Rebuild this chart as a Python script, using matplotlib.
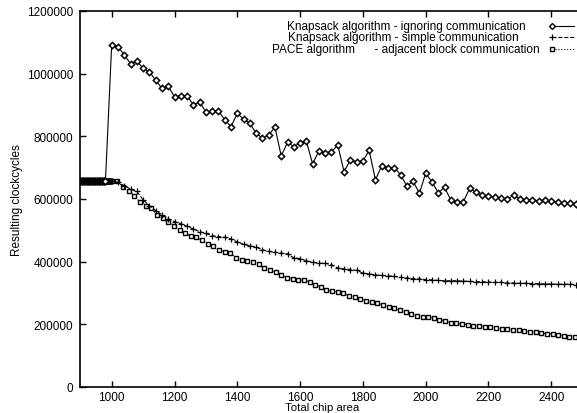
import numpy as np
import matplotlib
matplotlib.use("Agg")
import matplotlib.pyplot as plt

plt.rcParams['font.family'] = ['Liberation Sans', 'DejaVu Sans']

# flat start, same for all three algorithms
flat_area = np.arange(900, 1000, 2)
flat_cycles = 657000

# Knapsack - ignoring communication (every 20 units from 1000)
ignoring = [1093000, 1086000, 1060000, 1032000, 1040000, 1017000, 1006000, 979000,
            953000, 960000, 926000, 930000, 930000, 900000, 910000, 877000,
            881000, 881000, 853000, 831000, 873000, 855000, 841000, 810000,
            794000, 805000, 829000, 737000, 781000, 767000, 779000, 784000,
            712000, 754000, 746000, 751000, 772000, 687000, 724000, 719000,
            721000, 755000, 661000, 706000, 700000, 700000, 678000, 641000,
            657000, 618000, 682000, 655000, 620000, 637000, 597000, 591000,
            591000, 634000, 621000, 612000, 610000, 605000, 602000, 600000,
            612000, 599000, 597000, 598000, 594000, 598000, 593000, 590000,
            587000, 586000, 584000]

# Knapsack - simple communication (every 20 units from 1000)
simple = [657000, 653000, 642000, 632000, 624000, 598000, 578000, 563000,
          550000, 537000, 528000, 521000, 513000, 504000, 496000, 490000,
          483000, 480000, 478000, 472000, 463000, 455000, 451000, 446000,
          438000, 433000, 430000, 427000, 425000, 412000, 410000, 403000,
          398000, 395000, 395000, 390000, 380000, 377000, 375000, 372000,
          364000, 361000, 358000, 356000, 355000, 353000, 350000, 348000,
          346000, 345000, 343000, 342000, 340000, 339000, 339000, 339000,
          338000, 337000, 336000, 336000, 335000, 334000, 334000, 332000,
          332000, 331000, 331000, 330000, 330000, 329000, 329000, 328000,
          328000, 328000, 327000]

# PACE - adjacent block communication (every 18 units from 1000)
pace = [658000, 657000, 638000, 626000, 611000, 590000, 579000, 570000,
        550000, 538000, 526000, 514000, 501000, 490000, 483000, 478000,
        468000, 456000, 450000, 437000, 432000, 428000, 412000, 405000,
        401000, 398000, 392000, 381000, 374000, 367000, 357000, 349000,
        345000, 342000, 340000, 336000, 327000, 318000, 310000, 306000,
        304000, 299000, 291000, 286000, 281000, 275000, 270000, 268000,
        261000, 255000, 251000, 245000, 240000, 233000, 226000, 225000,
        222000, 221000, 215000, 212000, 204000, 203000, 201000, 199000,
        196000, 195000, 192000, 191000, 188000, 186000, 185000, 183000,
        182000, 179000, 177000, 174000, 172000, 170000, 169000, 166000,
        164000, 160000, 158000]

labels = ["Knapsack algorithm - ignoring communication",
          "Knapsack algorithm - simple communication",
          "PACE algorithm      - adjacent block communication"]

flat_ign = flat_area[flat_area <= 980]
x_ign = np.concatenate([flat_ign, 1000 + 20 * np.arange(len(ignoring))])
y_ign = np.concatenate([np.full(len(flat_ign), flat_cycles), ignoring])
x_sim = np.concatenate([flat_area, 1000 + 20 * np.arange(len(simple))])
y_sim = np.concatenate([np.full(len(flat_area), flat_cycles), simple])
x_pac = np.concatenate([flat_area, 1000 + 18 * np.arange(len(pace))])
y_pac = np.concatenate([np.full(len(flat_area), flat_cycles), pace])

fig = plt.figure(figsize=(5.77, 4.14), dpi=100)
ax = fig.add_axes([80/577, 26/414, 497/577, 376/414])

ax.plot(x_pac, y_pac, ls=':', lw=0.8, color='black', marker='s', ms=3.5,
        mfc='white', mec='black', mew=1.0)
ax.plot(x_sim, y_sim, ls='--', lw=0.8, color='black', marker='+', ms=5,
        mew=0.9)
ax.plot(x_ign, y_ign, ls='-', lw=0.8, color='black', marker='D', ms=3.2,
        mfc='white', mec='black', mew=1.1)

ax.set_xlim(899, 2482)
ax.set_ylim(0, 1200000)
ax.set_xticks([1000, 1200, 1400, 1600, 1800, 2000, 2200, 2400])
ax.set_yticks([0, 200000, 400000, 600000, 800000, 1000000, 1200000])
ax.ticklabel_format(axis='y', style='plain', useOffset=False)
ax.tick_params(direction='in', length=4, width=1, top=True, right=False,
               labelsize=8.5, pad=5)
ax.tick_params(axis='x', pad=3)
ax.spines['right'].set_visible(False)
for s in ['left', 'bottom', 'top']:
    ax.spines[s].set_linewidth(1.2)

ax.set_xlabel("Total chip area", fontsize=8.2)
ax.xaxis.set_label_coords(0.487, -0.041)
ax.set_ylabel("Resulting clockcycles", fontsize=8.5)
ax.yaxis.set_label_coords(-0.115, 0.5)

# key, gnuplot style
key_right = [526, 519, 540]
key_y = [27, 38, 50]
styles = [dict(ls='-', marker='D', ms=3, mfc='white', mew=1.0),
          dict(ls='--', marker='+', ms=5, mew=0.9),
          dict(ls=':', marker='s', ms=3.5, mfc='white', mew=1.0)]
for lab, xr, yk, st in zip(labels, key_right, key_y, styles):
    ya = (388 - yk) / 376
    ax.text((xr - 80) / 497, ya, lab, ha='right', va='center', fontsize=8.5,
            transform=ax.transAxes)
    ax.plot([(552 - 80) / 497, (574 - 80) / 497], [ya, ya], color='black',
            lw=0.8, transform=ax.transAxes, clip_on=False, markevery=[0],
            **st)

fig.savefig("out.png", dpi=100)
